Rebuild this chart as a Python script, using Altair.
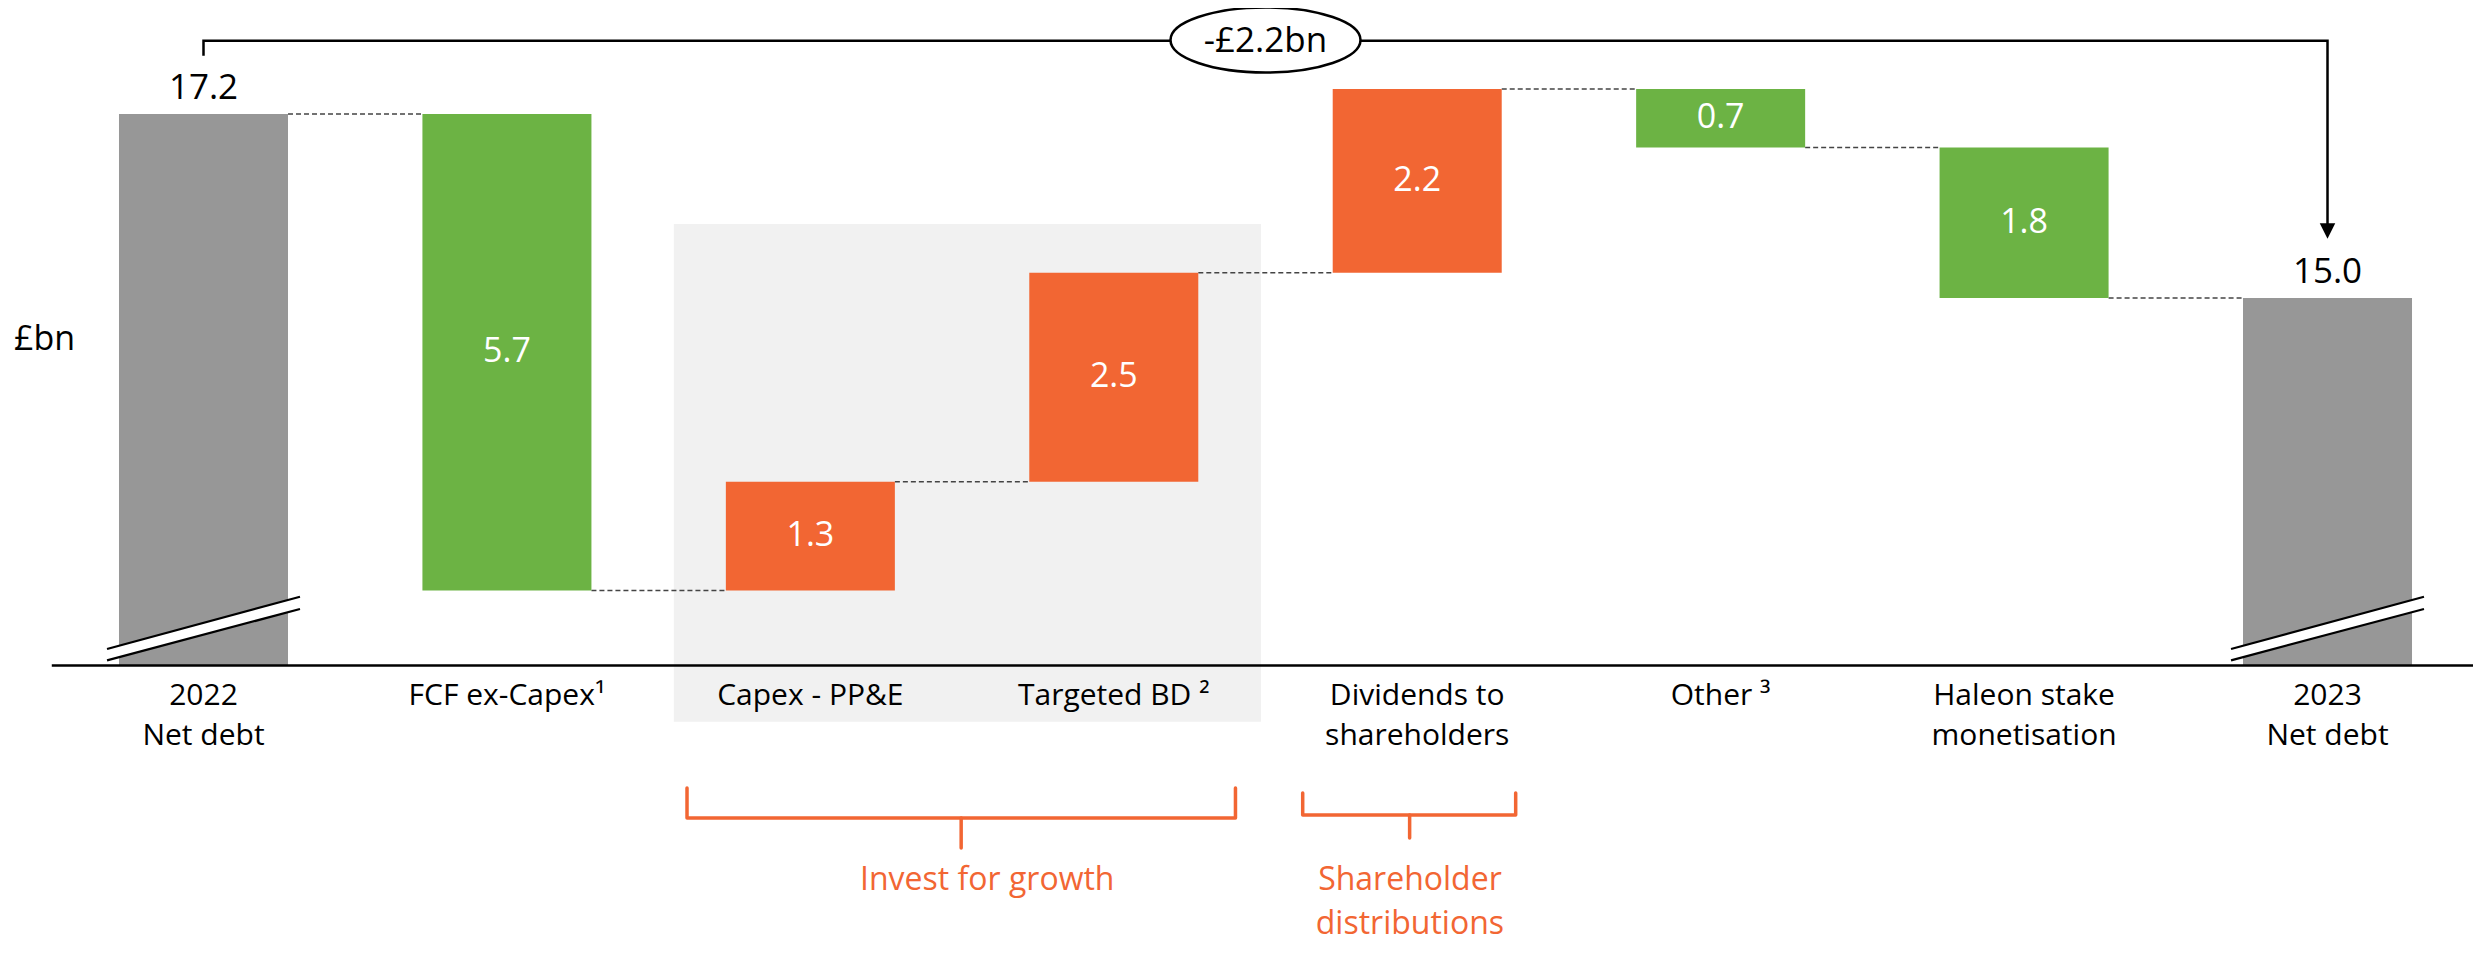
import altair as alt
import pandas as pd

# ---------------- data ----------------
line1 = ["2022", "FCF ex-Capex\u00b9", "Capex - PP&E", "Targeted BD \u00b2",
         "Dividends to", "Other \u00b3", "Haleon stake", "2023"]
line2 = ["Net debt", "", "", "", "shareholders", "", "monetisation", "Net debt"]
changes = [17.2, -5.7, 1.3, 2.5, 2.2, -0.7, -1.8, 15.0]
kinds = ["total", "down", "up", "up", "up", "down", "down", "total"]
value_labels = ["17.2", "5.7", "1.3", "2.5", "2.2", "0.7", "1.8", "15.0"]
bridge_label = "-\u00a32.2bn"
unit_label = "\u00a3bn"
group_names = ["Invest for growth", "Shareholder\ndistributions"]

# ---------------- layout constants (scale units) ----------------
X0, X1 = -0.6443, 7.4795
Y0, Y1 = 7.248, 18.468
AXIS_BASE = 10.604
HW = 0.2785
FONT = "Open Sans"
GREY, GREEN, ORANGE = "#979797", "#6cb344", "#f26633"

xs = alt.Scale(domain=[X0, X1], nice=False, zero=False)
ys = alt.Scale(domain=[Y0, Y1], nice=False, zero=False)


def X(f):
    return alt.X(f, type="quantitative", scale=xs, axis=None)


def Y(f):
    return alt.Y(f, type="quantitative", scale=ys, axis=None)


# ---------------- bars table ----------------
rows = []
level = 0.0
for i, (c, k) in enumerate(zip(changes, kinds)):
    if k == "total":
        lo, hi = AXIS_BASE, c
        level = c
    else:
        start, end = level, level + c
        lo, hi = min(start, end), max(start, end)
        level = end
    rows.append(dict(idx=i, xl=i - HW, xr=i + HW, lo=lo, hi=hi, mid=(lo + hi) / 2,
                     end=round(level, 2), kind=k, label=value_labels[i],
                     l1=line1[i], l2=line2[i]))
bars = pd.DataFrame(rows)

conn = pd.DataFrame([dict(x=r["idx"] + HW, x2=r["idx"] + 1 - HW, y=r["end"])
                     for r in rows[:-1]])

color = alt.Color("kind:N", scale=alt.Scale(domain=["total", "down", "up"],
                                            range=[GREY, GREEN, ORANGE]), legend=None)

# background box behind invest-for-growth columns
box = alt.Chart(pd.DataFrame([dict(x=1.55, x2=3.485, y=9.931, y2=15.884)])).mark_rect(
    color="#f1f1f1").encode(x=X("x"), x2="x2", y=Y("y"), y2="y2")

bar_layer = alt.Chart(bars).mark_rect().encode(
    x=X("xl"), x2="xr", y=Y("lo"), y2="hi", color=color)

axis_line = alt.Chart(pd.DataFrame([dict(x=-0.5, x2=X1, y=AXIS_BASE)])).mark_rule(
    color="black", strokeWidth=2.5).encode(x=X("x"), x2="x2", y=Y("y"))

conn_layer = alt.Chart(conn).mark_rule(color="#444444", strokeWidth=1.5,
                                       strokeDash=[5, 3]).encode(
    x=X("x"), x2="x2", y=Y("y"))

# axis-break marks on the total bars
brk = []
for r in rows:
    if r["kind"] == "total":
        i = r["idx"]
        brk.append(dict(x=i - 0.318, x2=i + 0.318, y=10.733, y2=11.353, part="gap"))
        brk.append(dict(x=i - 0.318, x2=i + 0.318, y=10.800, y2=11.426, part="edge"))
        brk.append(dict(x=i - 0.318, x2=i + 0.318, y=10.665, y2=11.279, part="edge"))
brk = pd.DataFrame(brk)
brk_gap = alt.Chart(brk[brk.part == "gap"]).mark_rule(color="white", strokeWidth=11).encode(
    x=X("x"), x2="x2", y=Y("y"), y2="y2")
brk_edge = alt.Chart(brk[brk.part == "edge"]).mark_rule(color="black", strokeWidth=2.2).encode(
    x=X("x"), x2="x2", y=Y("y"), y2="y2")

# value labels
inner = alt.Chart(bars[bars.kind != "total"]).mark_text(
    font=FONT, fontSize=34, color="white", baseline="middle").encode(
    x=X("idx"), y=Y("mid"), text="label:N")
totals = alt.Chart(bars[bars.kind == "total"]).mark_text(
    font=FONT, fontSize=35, fontWeight=500, color="black", baseline="alphabetic", dy=-15).encode(
    x=X("idx"), y=Y("hi"), text="label:N")

# category labels (two lines)
cat1 = alt.Chart(bars.assign(yy=10.131)).mark_text(
    font=FONT, fontSize=30, color="black", baseline="alphabetic").encode(
    x=X("idx"), y=Y("yy"), text="l1:N")
cat2 = alt.Chart(bars.assign(yy=9.652)).mark_text(
    font=FONT, fontSize=30, color="black", baseline="alphabetic").encode(
    x=X("idx"), y=Y("yy"), text="l2:N")

unit = alt.Chart(pd.DataFrame([dict(x=-0.6245, y=14.377, t=unit_label)])).mark_text(
    font=FONT, fontSize=34, color="black", align="left", baseline="alphabetic").encode(
    x=X("x"), y=Y("y"), text="t:N")

# top bracket from first total to last total
first, last = 0, len(changes) - 1
bracket = pd.DataFrame([
    dict(o=0, x=first, y=17.897), dict(o=1, x=first, y=18.077),
    dict(o=2, x=last, y=18.077), dict(o=3, x=last, y=15.85)])
bracket_layer = alt.Chart(bracket).mark_line(color="black", strokeWidth=2.5,
                                             strokeJoin="miter").encode(
    x=X("x"), y=Y("y"), order="o:Q")
arrow = alt.Chart(pd.DataFrame([dict(x=last, y=15.80)])).mark_point(
    shape="M -1 -1 L 1 -1 L 0 1 Z", size=240, filled=True, fill="black",
    stroke="black", strokeWidth=0, opacity=1).encode(x=X("x"), y=Y("y"))

ell_x = (first + last) / 2
ellipse = alt.Chart(pd.DataFrame([dict(x=ell_x, y=18.085)])).mark_point(
    shape="M -1 0 C -1 -0.189 -0.5523 -0.342 0 -0.342 C 0.5523 -0.342 1 -0.189 1 0 "
          "C 1 0.189 0.5523 0.342 0 0.342 C -0.5523 0.342 -1 0.189 -1 0 Z",
    size=36100, filled=True, fill="white", stroke="black", strokeWidth=2.5,
    opacity=1).encode(x=X("x"), y=Y("y"))
ell_text = alt.Chart(pd.DataFrame([dict(x=ell_x, y=18.085, t=bridge_label)])).mark_text(
    font=FONT, fontSize=35, fontWeight=500, color="black", baseline="middle", dy=1).encode(
    x=X("x"), y=Y("y"), text="t:N")

# braces
brace_geom = [
    dict(L=1.5935, R=3.401, S=2.497, top=9.138, h=8.779, bot=8.420),
    dict(L=3.6226, R=4.3245, S=3.975, top=9.078, h=8.815, bot=8.540),
]
bp = []
for b, g in enumerate(brace_geom):
    for o, (px, py) in enumerate([(g["L"], g["top"]), (g["L"], g["h"]),
                                  (g["R"], g["h"]), (g["R"], g["top"])]):
        bp.append(dict(seg=f"{b}a", o=o, x=px, y=py))
    bp.append(dict(seg=f"{b}b", o=0, x=g["S"], y=g["h"]))
    bp.append(dict(seg=f"{b}b", o=1, x=g["S"], y=g["bot"]))
braces = alt.Chart(pd.DataFrame(bp)).mark_line(
    color=ORANGE, strokeWidth=3.5, strokeJoin="round", strokeCap="round").encode(
    x=X("x"), y=Y("y"), detail="seg:N", order="o:Q")

glabels = pd.DataFrame([
    dict(x=2.583, y=7.918, t=group_names[0]),
    dict(x=3.976, y=7.918, t=group_names[1]),
])
glabel_layer = alt.Chart(glabels).mark_text(
    font=FONT, fontSize=32, color=ORANGE, baseline="alphabetic",
    lineBreak="\n", lineHeight=44).encode(
    x=X("x"), y=Y("y"), text="t:N")

chart = alt.layer(
    box, conn_layer, bar_layer, brk_gap, brk_edge, axis_line, inner, totals,
    cat1, cat2, unit, bracket_layer, arrow, ellipse, ell_text, braces, glabel_layer
).properties(
    width=2465, height=938, padding=0,
    autosize=alt.AutoSizeParams(type="none"),
    background="white",
).configure_view(stroke=None)

chart.save("out.html", embed_options={"renderer": "svg", "actions": False})
